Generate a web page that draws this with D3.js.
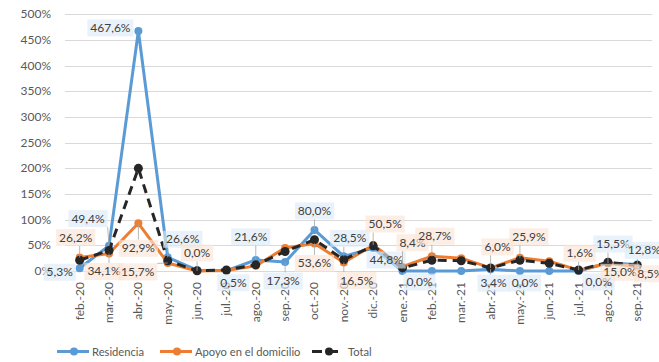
<!DOCTYPE html>
<html><head><meta charset="utf-8">
<script src="https://cdn.jsdelivr.net/npm/d3@7"></script>
<style>body{margin:0;background:#fff}svg{display:block;font-family:Lato,"Liberation Sans",sans-serif}</style>
</head><body><svg id="c" width="659" height="362"></svg>
<script>
const months = ["feb.-20","mar.-20","abr.-20","may.-20","jun.-20","jul.-20","ago.-20","sep.-20","oct.-20","nov.-20","dic.-20","ene.-21","feb.-21","mar.-21","abr.-21","may.-21","jun.-21","jul.-21","ago.-21","sep.-21"];
const residencia = [5.3,49.4,467.6,26.6,1.5,0.5,21.6,17.3,80.0,28.5,44.8,0.0,0.0,0.0,3.4,0.0,0.0,0.0,15.5,12.8];
const apoyo = [26.2,34.1,92.9,15.7,0.0,1.0,10.0,45.0,53.6,16.5,50.5,8.4,28.7,25.0,6.0,25.9,19.0,1.6,15.0,8.5];
const total = [21,40,200,20,0.5,2,12,38,61,22,49,6,21,20,6,21,15,2,17,11];
const yTicks = [0,50,100,150,200,250,300,350,400,450,500];
const seriesNames = ["Residencia","Apoyo en el domicilio","Total"];
// label layout: [seriesIndex, monthIndex, dx, dy]
const labelLayout = [
 [0,0,-20,4],[0,1,-21,-27],[0,2,-28,-3],[0,3,15,-18],[0,5,7,12],[0,6,-5,-23],[0,7,-2,19],
 [0,8,0,-19],[0,9,6,-18],[0,10,13,12],[0,11,17,11],[0,14,3,14],[0,15,5,12],[0,17,20,11],
 [0,18,5,-19],[0,19,7,-14],
 [1,0,-4,-20],[1,1,-5,18],[1,2,0,25],[1,3,-30,9],[1,4,0,-18],[1,8,0,20],[1,9,13,18],
 [1,10,12,-21],[1,11,10,-24],[1,12,3,-20],[1,14,7,-21],[1,15,9,-21],[1,17,1,-17],
 [1,18,12,9],[1,19,13,7]
];

const svg = d3.select("#c");
const x = d3.scaleBand().domain(months).range([65,652]);
const y = d3.scaleLinear().domain([0,500]).range([271,14.3]);
const cx = m => x(m) + x.bandwidth()/2;
const fmt = v => v.toFixed(1).replace(".", ",") + "%";

svg.append("g").selectAll("line").data(yTicks).join("line")
  .attr("x1",65).attr("x2",652).attr("y1",d=>Math.round(y(d))+0.5).attr("y2",d=>Math.round(y(d))+0.5)
  .attr("stroke","#D9D9D9").attr("stroke-width",1);
svg.append("g").selectAll("text").data(yTicks).join("text")
  .attr("x",51).attr("y",d=>y(d)+4).attr("text-anchor","end")
  .attr("font-size",12).attr("fill","#595959").text(d=>d+"%");
svg.append("g").selectAll("text").data(months).join("text")
  .attr("transform",d=>`translate(${cx(d)+4},282) rotate(-90)`)
  .attr("text-anchor","end").attr("font-size",12).attr("fill","#595959").text(d=>d);

const colors = ["#5B9BD5","#ED7D31","#262626"];
const data = [residencia, apoyo, total];
const line = d3.line().x((d,i)=>cx(months[i])).y(d=>y(d));
data.forEach((s,k)=>{
  svg.append("path").datum(s).attr("d",line).attr("fill","none")
    .attr("stroke",colors[k]).attr("stroke-width",3).attr("stroke-linejoin","round")
    .attr("stroke-dasharray", k===2 ? "9,6" : null);
  svg.append("g").selectAll("circle").data(s).join("circle")
    .attr("cx",(d,i)=>cx(months[i])).attr("cy",d=>y(d)).attr("r",k===2?4.5:4)
    .attr("fill",colors[k]);
});

const fills = ["#DDEBF7","#FBE5D6"];
const lg = svg.append("g");
labelLayout.forEach(([s,i,dx,dy])=>{
  const v = data[s][i];
  const px = cx(months[i]), py = y(v);
  const lx = px+dx, ly = py+dy;
  const t = fmt(v);
  const tmp = lg.append("text").attr("font-size",12).text(t);
  const w = tmp.node().getComputedTextLength();
  tmp.remove();
  const bw = w+6, bh = 17;
  const bx = lx-bw/2, by = ly-bh/2;
  const nx = Math.max(bx, Math.min(px, bx+bw)), ny = Math.max(by, Math.min(py, by+bh));
  if (Math.hypot(nx-px, ny-py) > 5) {
    lg.append("line").attr("x1",px).attr("y1",py).attr("x2",nx).attr("y2",ny)
      .attr("stroke","#A6A6A6").attr("stroke-width",0.8);
  }
  lg.append("rect").attr("x",bx).attr("y",by).attr("width",bw).attr("height",bh)
    .attr("fill",fills[s]).attr("fill-opacity",0.65);
  lg.append("text").attr("x",lx).attr("y",ly+4).attr("text-anchor","middle")
    .attr("font-size",12).attr("fill","#404040").text(t);
});

const legX = [57,160,312];
const leg = svg.append("g");
seriesNames.forEach((n,k)=>{
  const x0 = legX[k];
  leg.append("line").attr("x1",x0).attr("x2",x0+32).attr("y1",351.5).attr("y2",351.5)
    .attr("stroke",colors[k]).attr("stroke-width",3).attr("stroke-dasharray",k===2?"10,6":null);
  leg.append("circle").attr("cx",x0+17).attr("cy",351.5).attr("r",4).attr("fill",colors[k]);
  leg.append("text").attr("x",x0+(k===2?36:35)).attr("y",355.5).attr("font-size",11.2)
    .attr("fill","#595959").text(n);
});
</script></body></html>
